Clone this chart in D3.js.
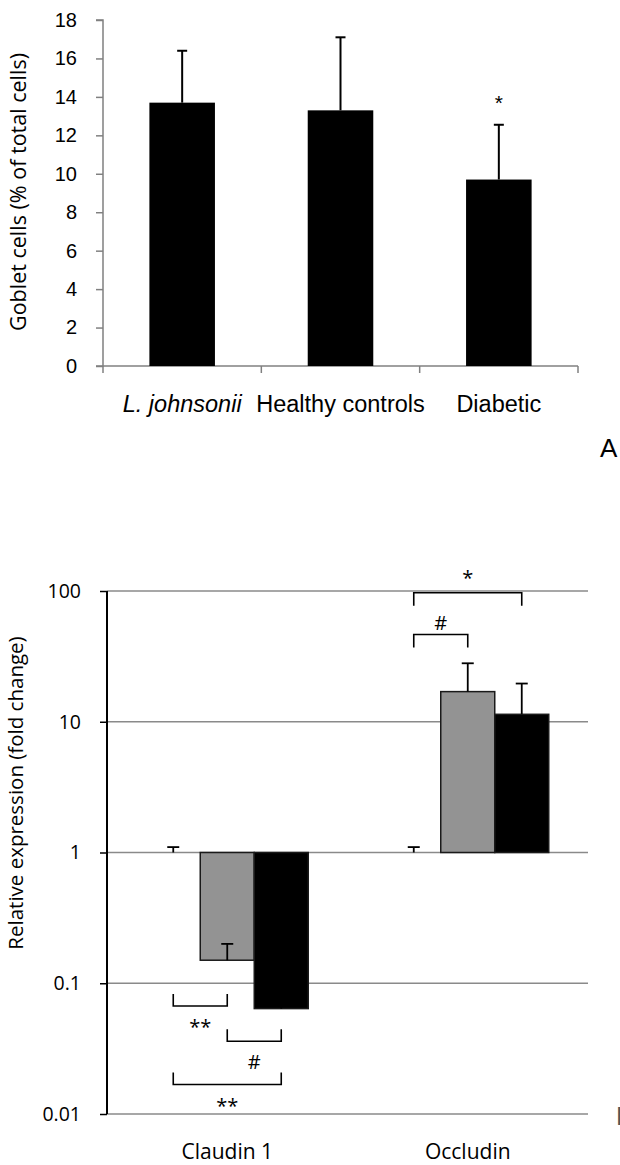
<!DOCTYPE html>
<html>
<head>
<meta charset="utf-8">
<script src="https://cdn.jsdelivr.net/npm/d3@7"></script>
<style>
  body { margin: 0; background: #fff; }
  svg { display: block; }
</style>
</head>
<body>
<div id="chart"></div>
<script>
// panel A data
var gobletGroups = ["L. johnsonii", "Healthy controls", "Diabetic"];
var gobletMeans = [13.7, 13.3, 9.7];
var gobletSDs = [2.7, 3.8, 2.85];
var gobletSig = ["", "", "*"];
var gobletTicks = [0, 2, 4, 6, 8, 10, 12, 14, 16, 18];

// panel B data
var genes = ["Claudin 1", "Occludin"];
var treatments = ["Healthy controls", "L. johnsonii", "Diabetic"];
var claudinMeans = [1, 0.15, 0.064];
var claudinErr = [0.1, 0.05, 0.02];
var occludinMeans = [1, 17, 11.4];
var occludinErr = [0.1, 11, 8.2];
var expressionTicks = [0.01, 0.1, 1, 10, 100];
var claudinBrackets = [
  {from: 0, to: 1, level: 0.067, label: "**"},
  {from: 1, to: 2, level: 0.036, label: "#"},
  {from: 0, to: 2, level: 0.0168, label: "**"}
];
var occludinBrackets = [
  {from: 0, to: 2, level: 97, label: "*"},
  {from: 0, to: 1, level: 46.5, label: "#"}
];

var svgWidth = 620;
var svgHeight = 1165;

var svg = d3.select("#chart")
  .append("svg")
  .attr("width", svgWidth)
  .attr("height", svgHeight);

// ---------- panel A ----------
var marginA = {top: 20, left: 103, right: 42};
var heightA = 346;
var widthA = svgWidth - marginA.left - marginA.right;

var gA = svg.append("g")
  .attr("transform", `translate(${marginA.left}, ${marginA.top})`);

var xA = d3.scaleBand()
  .domain(gobletGroups)
  .range([0, widthA])
  .paddingInner(0.586)
  .paddingOuter(0.293);

var yA = d3.scaleLinear()
  .domain([0, 18])
  .range([heightA, 0]);

var yAxisA = gA.append("g")
  .call(d3.axisLeft(yA).tickValues(gobletTicks).tickSize(7).tickPadding(19));
yAxisA.selectAll("line, path").attr("stroke", "#808080").attr("stroke-width", 1.5);
yAxisA.select(".domain").attr("d", `M-7,0H0V${heightA}H-7`).attr("fill", "none");
yAxisA.selectAll("text")
  .attr("font-family", "Liberation Sans, Arial, sans-serif")
  .attr("font-size", 20)
  .attr("fill", "#000");

// x axis: line plus ticks between categories
var stepA = xA.step();
gA.append("line")
  .attr("x1", 0).attr("x2", widthA)
  .attr("y1", heightA).attr("y2", heightA)
  .attr("stroke", "#808080").attr("stroke-width", 1.5);

gA.selectAll(".cat-tick")
  .data(d3.range(gobletGroups.length + 1))
  .enter()
  .append("line")
  .attr("class", "cat-tick")
  .attr("x1", i => i * stepA).attr("x2", i => i * stepA)
  .attr("y1", heightA).attr("y2", heightA + 7)
  .attr("stroke", "#808080").attr("stroke-width", 1.5);

gA.selectAll(".cat-label")
  .data(gobletGroups)
  .enter()
  .append("text")
  .attr("class", "cat-label")
  .attr("x", d => xA(d) + xA.bandwidth() / 2)
  .attr("y", heightA + 46)
  .attr("text-anchor", "middle")
  .attr("font-family", "Liberation Sans, Arial, sans-serif")
  .attr("font-size", 23.5)
  .attr("font-style", (d, i) => i === 0 ? "italic" : "normal")
  .text(d => d);

// error bars (drawn first, bar covers lower part)
gobletGroups.forEach(function(g, i) {
  var cx = xA(g) + xA.bandwidth() / 2;
  gA.append("line")
    .attr("x1", cx).attr("x2", cx)
    .attr("y1", yA(gobletMeans[i])).attr("y2", yA(gobletMeans[i] + gobletSDs[i]))
    .attr("stroke", "#000").attr("stroke-width", 2);
  gA.append("line")
    .attr("x1", cx - 5).attr("x2", cx + 5)
    .attr("y1", yA(gobletMeans[i] + gobletSDs[i])).attr("y2", yA(gobletMeans[i] + gobletSDs[i]))
    .attr("stroke", "#000").attr("stroke-width", 2);
  if (gobletSig[i]) {
    gA.append("text")
      .attr("x", cx)
      .attr("y", yA(gobletMeans[i] + gobletSDs[i]) - 15)
      .attr("text-anchor", "middle")
      .attr("font-family", "Liberation Sans, Arial, sans-serif")
      .attr("font-size", 21)
      .text(gobletSig[i]);
  }
});

gA.selectAll(".bar")
  .data(gobletMeans)
  .enter()
  .append("rect")
  .attr("class", "bar")
  .attr("x", (d, i) => xA(gobletGroups[i]))
  .attr("width", xA.bandwidth())
  .attr("y", d => yA(d))
  .attr("height", d => heightA - yA(d))
  .attr("fill", "#000");

// y label A
svg.append("text")
  .attr("transform", "rotate(-90)")
  .attr("x", -192)
  .attr("y", 26)
  .attr("text-anchor", "middle")
  .attr("font-family", "Open Sans, sans-serif")
  .attr("font-size", 21.5)
  .text("Goblet cells (% of total cells)");

svg.append("text")
  .attr("x", 600)
  .attr("y", 457)
  .attr("font-family", "Liberation Sans, Arial, sans-serif")
  .attr("font-size", 26)
  .text("A");

// ---------- panel B ----------
var marginB = {top: 591, left: 107, right: 32};
var heightB = 523;
var widthB = svgWidth - marginB.left - marginB.right;

var gB = svg.append("g")
  .attr("transform", `translate(${marginB.left}, ${marginB.top})`);

var x0 = d3.scaleBand()
  .domain(genes)
  .range([0, widthB])
  .padding(0);

var x1 = d3.scaleBand()
  .domain(treatments)
  .range([0, x0.bandwidth()])
  .paddingInner(0)
  .paddingOuter(0.727);

var yB = d3.scaleLog()
  .domain([0.01, 100])
  .range([heightB, 0]);

// gridlines
gB.selectAll(".grid")
  .data(expressionTicks)
  .enter()
  .append("line")
  .attr("class", "grid")
  .attr("x1", 0).attr("x2", widthB)
  .attr("y1", d => yB(d)).attr("y2", d => yB(d))
  .attr("stroke", "#8a8a8a").attr("stroke-width", 1.6);

var yAxisB = gB.append("g")
  .call(d3.axisLeft(yB).tickValues(expressionTicks).tickFormat(d => String(d)).tickSize(7).tickPadding(19));
yAxisB.selectAll("line").attr("stroke", "#000").attr("stroke-width", 1.5);
yAxisB.select(".domain").attr("d", `M0,0V${heightB}`).attr("stroke", "#000").attr("stroke-width", 2);
yAxisB.selectAll("text")
  .attr("font-family", "Open Sans, sans-serif")
  .attr("font-size", 19.5)
  .attr("fill", "#000");

var barColors = ["#fff", "#939393", "#000"];
var expression = [
  {gene: genes[0], means: claudinMeans, err: claudinErr, brackets: claudinBrackets},
  {gene: genes[1], means: occludinMeans, err: occludinErr, brackets: occludinBrackets}
];

expression.forEach(function(row) {
  var gGene = gB.append("g")
    .attr("transform", `translate(${x0(row.gene)}, 0)`);

  gGene.selectAll("rect")
    .data(row.means)
    .enter()
    .append("rect")
    .attr("x", (d, i) => x1(treatments[i]))
    .attr("width", x1.bandwidth())
    .attr("y", d => Math.min(yB(d), yB(1)))
    .attr("height", d => Math.abs(yB(d) - yB(1)))
    .attr("fill", (d, i) => barColors[i])
    .attr("stroke", (d, i) => i === 0 ? "none" : "#1a1a1a")
    .attr("stroke-width", 1.5);

  row.means.forEach(function(m, i) {
    var cx = x1(treatments[i]) + x1.bandwidth() / 2;
    var top = yB(m + row.err[i]);
    gGene.append("line")
      .attr("x1", cx).attr("x2", cx)
      .attr("y1", yB(m)).attr("y2", top)
      .attr("stroke", "#000").attr("stroke-width", 1.8);
    gGene.append("line")
      .attr("x1", cx - 6).attr("x2", cx + 6)
      .attr("y1", top).attr("y2", top)
      .attr("stroke", "#000").attr("stroke-width", 1.8);
  });

  row.brackets.forEach(function(b) {
    var xa = x1(treatments[b.from]) + x1.bandwidth() / 2;
    var xb = x1(treatments[b.to]) + x1.bandwidth() / 2;
    var yl = yB(b.level);
    var up = b.level < 1; // below the bars the bracket opens upward
    var dy = up ? -12 : 13;
    gGene.append("path")
      .attr("d", `M${xa},${yl + dy}V${yl}H${xb}V${yl + dy}`)
      .attr("fill", "none")
      .attr("stroke", "#000")
      .attr("stroke-width", 1.6);
    gGene.append("text")
      .attr("x", (xa + xb) / 2)
      .attr("y", up ? yl + 28 : yl - (b.label === "#" ? 4 : 8))
      .attr("text-anchor", "middle")
      .attr("font-family", "Open Sans, sans-serif")
      .attr("font-size", 20)
      .text(b.label);
  });
});

gB.selectAll(".gene-label")
  .data(genes)
  .enter()
  .append("text")
  .attr("class", "gene-label")
  .attr("x", d => x0(d) + x0.bandwidth() / 2)
  .attr("y", heightB + 45)
  .attr("text-anchor", "middle")
  .attr("font-family", "Open Sans, sans-serif")
  .attr("font-size", 21)
  .text(d => d);

svg.append("text")
  .attr("transform", "rotate(-90)")
  .attr("x", -793)
  .attr("y", 23)
  .attr("text-anchor", "middle")
  .attr("font-family", "Open Sans, sans-serif")
  .attr("font-size", 20.5)
  .text("Relative expression  (fold change)");

svg.append("text")
  .attr("x", 616)
  .attr("y", 1125)
  .attr("font-family", "Liberation Sans, Arial, sans-serif")
  .attr("font-size", 26)
  .attr("fill", "#555")
  .text("B");
</script>
</body>
</html>
